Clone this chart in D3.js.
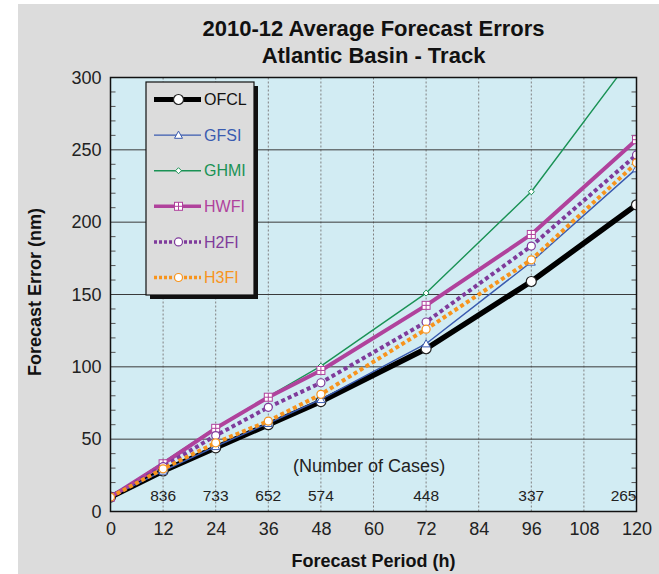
<!DOCTYPE html>
<html>
<head>
<meta charset="utf-8">
<script src="https://cdn.jsdelivr.net/npm/d3@7"></script>
<style>
  body { margin: 0; background: #fff; }
  text { font-family: "Liberation Sans", Arial, sans-serif; }
</style>
</head>
<body>
<svg width="659" height="574"></svg>
<script>
// forecast hours and homogeneous sample sizes
var hours = [0, 12, 24, 36, 48, 72, 96, 120];
var cases = [null, 836, 733, 652, 574, 448, 337, 265];

// average track errors (nm)
var ofcl = [10, 28, 44, 60, 76, 112.5, 159, 212];
var gfsi = [10, 28, 45, 61, 77.5, 116, 172.5, 237];
var ghmi = [10, 34, 58, 79.5, 100.5, 151, 221, 318];
var hwfi = [10, 33, 57.5, 79, 97.5, 142.5, 191.5, 257];
var h2fi = [10, 31, 52.5, 72, 89, 131, 183.5, 246.5];
var h3fi = [10, 29.5, 47.5, 62.5, 81, 126, 174, 241];

var xTicks = d3.range(0, 121, 12);
var yTicks = [0, 50, 100, 150, 200, 250, 300];

var series = [
  {name: "OFCL", values: ofcl, color: "#000000", width: 5.5, dash: null, marker: "circle", r: 5},
  {name: "GFSI", values: gfsi, color: "#3a5bb0", width: 1.4, dash: null, marker: "triangle", r: 4},
  {name: "GHMI", values: ghmi, color: "#1a9255", width: 1.4, dash: null, marker: "diamond", r: 3},
  {name: "HWFI", values: hwfi, color: "#b0429c", width: 4, dash: null, marker: "square", r: 4},
  {name: "H2FI", values: h2fi, color: "#7f3b9b", width: 4, dash: "4,3", marker: "circle", r: 4},
  {name: "H3FI", values: h3fi, color: "#f7941d", width: 4, dash: "4,3", marker: "circle", r: 4}
];

var svg = d3.select("svg"),
    margin = {top: 77.5, right: 22.5, bottom: 62.5, left: 110.5},
    width = 659 - margin.left - margin.right,
    height = 574 - margin.top - margin.bottom;

// page background (white strip on the left and top like the original)
svg.append("rect").attr("x", 18).attr("y", 4).attr("width", 641).attr("height", 570).attr("fill", "#dcdcdc");

var x = d3.scaleLinear().domain([0, 120]).range([0, width]),
    y = d3.scaleLinear().domain([0, 300]).range([height, 0]);

var g = svg.append("g").attr("transform", "translate(" + margin.left + "," + margin.top + ")");

g.append("rect").attr("width", width).attr("height", height).attr("fill", "#d2ecf3");

// vertical dashed grid
g.selectAll(".vgrid")
  .data(xTicks.slice(1, -1))
  .enter().append("line")
    .attr("x1", function(d) { return x(d); })
    .attr("x2", function(d) { return x(d); })
    .attr("y1", 0).attr("y2", height)
    .attr("stroke", "#808080").attr("stroke-width", 1).attr("stroke-dasharray", "2,2");

// horizontal grid
g.selectAll(".hgrid")
  .data(yTicks.slice(1, -1))
  .enter().append("line")
    .attr("x1", 0).attr("x2", width)
    .attr("y1", function(d) { return y(d); })
    .attr("y2", function(d) { return y(d); })
    .attr("stroke", "#3a3a3a").attr("stroke-width", 1);

// minor ticks inside, left and right
var minor = d3.range(10, 300, 10).filter(function(d) { return d % 50 !== 0; });
g.selectAll(".minorL").data(minor).enter().append("line")
  .attr("x1", 0).attr("x2", 5)
  .attr("y1", function(d) { return y(d); }).attr("y2", function(d) { return y(d); })
  .attr("stroke", "#555");
g.selectAll(".minorR").data(minor).enter().append("line")
  .attr("x1", width - 5).attr("x2", width)
  .attr("y1", function(d) { return y(d); }).attr("y2", function(d) { return y(d); })
  .attr("stroke", "#555");

// number of cases
g.append("text")
  .attr("x", x(59)).attr("y", y(27.5))
  .attr("text-anchor", "middle")
  .style("font-size", "18px").attr("fill", "#222")
  .text("(Number of Cases)");

g.selectAll(".cases")
  .data(hours.filter(function(d, i) { return cases[i] != null; }))
  .enter().append("text")
    .attr("x", function(d) { return x(d); })
    .attr("y", y(7.2))
    .attr("text-anchor", function(d) { return d === 120 ? "end" : "middle"; })
    .style("font-size", "15.5px").attr("fill", "#222")
    .text(function(d) { return cases[hours.indexOf(d)]; });

// lines
g.append("clipPath").attr("id", "clip")
  .append("rect").attr("width", width).attr("height", height);

var line = d3.line()
  .x(function(d, i) { return x(hours[i]); })
  .y(function(d) { return y(d); });

var plot = g.append("g").attr("clip-path", "url(#clip)");

function marker(sel, s, cx, cy) {
  var r = s.r;
  if (s.marker === "circle") {
    sel.append("circle").attr("cx", cx).attr("cy", cy).attr("r", r)
      .attr("fill", "#fff").attr("stroke", s.name === "OFCL" ? "#222" : s.color).attr("stroke-width", 1.2);
  } else if (s.marker === "triangle") {
    sel.append("path")
      .attr("d", "M" + cx + "," + (cy - r) + "L" + (cx + r) + "," + (cy + r * 0.8) + "L" + (cx - r) + "," + (cy + r * 0.8) + "Z")
      .attr("fill", "#fff").attr("stroke", s.color).attr("stroke-width", 1);
  } else if (s.marker === "diamond") {
    sel.append("path")
      .attr("d", "M" + cx + "," + (cy - r) + "L" + (cx + r) + "," + cy + "L" + cx + "," + (cy + r) + "L" + (cx - r) + "," + cy + "Z")
      .attr("fill", "#fff").attr("stroke", s.color).attr("stroke-width", 1);
  } else if (s.marker === "square") {
    sel.append("rect").attr("x", cx - r).attr("y", cy - r).attr("width", 2 * r).attr("height", 2 * r)
      .attr("fill", "#fff").attr("stroke", s.color).attr("stroke-width", 1);
    sel.append("path")
      .attr("d", "M" + (cx - r) + "," + cy + "H" + (cx + r) + "M" + cx + "," + (cy - r) + "V" + (cy + r))
      .attr("stroke", s.color).attr("stroke-width", 1);
  }
}

series.forEach(function(s) {
  var sg = plot.append("g");
  sg.append("path")
    .attr("d", line(s.values))
    .attr("fill", "none")
    .attr("stroke", s.color)
    .attr("stroke-width", s.width)
    .attr("stroke-linejoin", "round")
    .attr("stroke-dasharray", s.dash);
  s.values.forEach(function(v, i) {
    if (v <= 300) marker(sg, s, x(hours[i]), y(v));
  });
});

// frame
g.append("rect").attr("width", width).attr("height", height)
  .attr("fill", "none").attr("stroke", "#111").attr("stroke-width", 1.5);

// axes
var xAxis = g.append("g")
  .attr("transform", "translate(0," + height + ")")
  .call(d3.axisBottom(x).tickValues(xTicks).tickSize(0).tickPadding(11));
var yAxis = g.append("g")
  .call(d3.axisLeft(y).tickValues(yTicks).tickSize(0).tickPadding(9));
[xAxis, yAxis].forEach(function(a) {
  a.select(".domain").remove();
  a.selectAll("text").style("font-size", "18px").style("font-family", "'Liberation Sans', Arial, sans-serif").attr("fill", "#222");
});

// titles
svg.append("text")
  .attr("x", 373.5).attr("y", 36)
  .attr("text-anchor", "middle")
  .style("font-size", "22px").style("font-weight", "bold").attr("fill", "#111")
  .text("2010-12 Average Forecast Errors");
svg.append("text")
  .attr("x", 373.5).attr("y", 63)
  .attr("text-anchor", "middle")
  .style("font-size", "22px").style("font-weight", "bold").attr("fill", "#111")
  .text("Atlantic Basin - Track");

svg.append("text")
  .attr("x", 373.5).attr("y", 567)
  .attr("text-anchor", "middle")
  .style("font-size", "18px").style("font-weight", "bold").attr("fill", "#111")
  .text("Forecast Period (h)");

svg.append("text")
  .attr("transform", "translate(41,292) rotate(-90)")
  .attr("text-anchor", "middle")
  .style("font-size", "18px").style("font-weight", "bold").attr("fill", "#111")
  .text("Forecast Error (nm)");

// legend
var legend = svg.append("g");
legend.append("rect").attr("x", 150).attr("y", 86).attr("width", 108).attr("height", 213).attr("fill", "#111");
legend.append("rect").attr("x", 146).attr("y", 82).attr("width", 108).attr("height", 213)
  .attr("fill", "#dcdcdc").attr("stroke", "#111").attr("stroke-width", 1.2);

series.forEach(function(s, i) {
  var ly = 99.5 + i * 35.6;
  var lg = legend.append("g");
  lg.append("line")
    .attr("x1", 154).attr("x2", 201).attr("y1", ly).attr("y2", ly)
    .attr("stroke", s.color).attr("stroke-width", s.width === 5.5 ? 5 : (s.width > 2 ? 3.5 : 1.4))
    .attr("stroke-dasharray", s.dash ? "3,2" : null);
  marker(lg, s, 178.5, ly);
  lg.append("text")
    .attr("x", 204).attr("y", ly).attr("dy", "0.36em")
    .style("font-size", "16px").attr("fill", s.name === "OFCL" ? "#111" : s.color)
    .text(s.name);
});
</script>
</body>
</html>
